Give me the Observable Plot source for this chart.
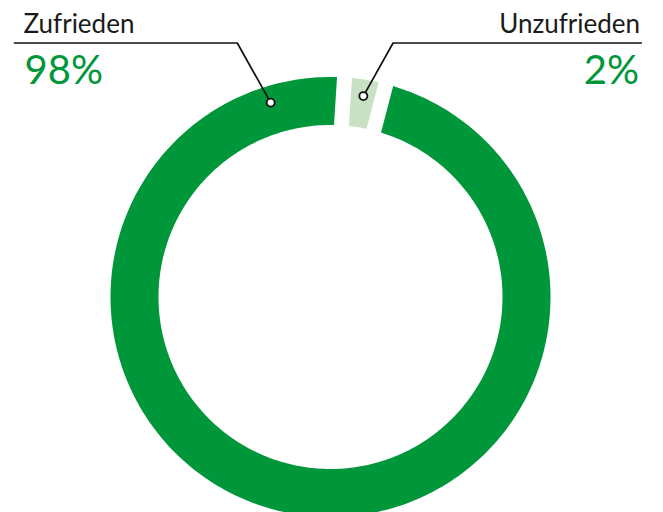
<!DOCTYPE html>
<html><head><meta charset="utf-8">
<script src="https://cdn.jsdelivr.net/npm/d3@7"></script>
<script src="https://cdn.jsdelivr.net/npm/@observablehq/plot@0.6"></script>
<style>html,body{margin:0;padding:0;background:#fff;overflow:hidden}</style>
</head><body><div id="chart"></div>
<script>
// ---- data ----
const categories = ["Zufrieden", "Unzufrieden"];
const values = [98, 2];
const valueLabels = ["98%", "2%"];

// ---- styles / layout ----
const colors = ["#00963a", "#c8e0c3"];
const W = 663, H = 512;
const CX = 330.5, CY = 297;          // ring centre in pixels
const R_OUT = 220, R_IN = 172;
const DEG = Math.PI / 180;
const PAD = 3.9 * DEG;
const START = 14.6 * DEG;
const px = x => x - CX;              // pixel -> data x
const py = y => CY - y;              // pixel -> data y

const pie = d3.pie().value(d => d.value).sort(null)
  .padAngle(PAD).startAngle(START).endAngle(START + 2 * Math.PI);
const arcs = pie(categories.map((c, i) => ({category: c, value: values[i]})));
const h = R_OUT * Math.sin(PAD / 2);

const ring = [];
for (const a of arcs) {
  const o0 = a.startAngle + Math.asin(h / R_OUT), o1 = a.endAngle - Math.asin(h / R_OUT);
  const i0 = a.startAngle + Math.asin(h / R_IN), i1 = a.endAngle - Math.asin(h / R_IN);
  const n = Math.max(8, Math.ceil((a.endAngle - a.startAngle) / DEG));
  for (let k = 0; k <= n; k++) {
    const t = k / n, ti = i0 + (i1 - i0) * t, to = o0 + (o1 - o0) * t;
    ring.push({category: a.data.category,
      xi: R_IN * Math.sin(ti), yi: R_IN * Math.cos(ti),
      xo: R_OUT * Math.sin(to), yo: R_OUT * Math.cos(to)});
  }
}

// leaders: dot on ring, elbow up to the label rule
const DOT_R = 204;
const dotAngle = [-17.2 * DEG, (arcs[1].startAngle + arcs[1].endAngle) / 2];
const side = [-1, 1];
const ruleY = py(42.5);
const ruleEnd = [px(14), px(640.7)];
const dots = categories.map((c, i) => ({category: c, x: DOT_R * Math.sin(dotAngle[i]), y: DOT_R * Math.cos(dotAngle[i])}));
const leaders = [];
dots.forEach((d, i) => {
  const ex = d.x + side[i] * (ruleY - d.y) * 0.56;
  leaders.push({category: d.category, x: d.x, y: d.y});
  leaders.push({category: d.category, x: ex, y: ruleY});
  leaders.push({category: d.category, x: ruleEnd[i], y: ruleY});
});

const labelX = [px(23), px(639.5)];
const anchors = ["start", "end"];
const textMarks = categories.flatMap((c, i) => [
  Plot.text([c], {x: () => labelX[i], y: () => py(32), text: d => d, textAnchor: anchors[i],
    lineAnchor: "bottom", fontSize: 26, fontFamily: "Lato", fill: "#1a1a1a"}),
  Plot.text([valueLabels[i]], {x: () => labelX[i] + (i ? -1 : 1), y: () => py(83.5), text: d => d, textAnchor: anchors[i],
    lineAnchor: "bottom", fontSize: 40, fontFamily: "Lato", fill: colors[0]})
]);

const chart = Plot.plot({
  width: W, height: H,
  margin: 0,
  x: {domain: [px(0), px(W)], axis: null},
  y: {domain: [py(H), py(0)], axis: null},
  color: {domain: categories, range: colors},
  style: {background: "#fff", overflow: "hidden"},
  marks: [
    Plot.area(ring, {x1: "xi", y1: "yi", x2: "xo", y2: "yo", z: "category", fill: "category"}),
    Plot.line(leaders, {x: "x", y: "y", z: "category", stroke: "#111", strokeWidth: 1.7}),
    Plot.dot(dots, {x: "x", y: "y", r: 4, fill: "#fff", stroke: "#111", strokeWidth: 1.8}),
    ...textMarks
  ]
});
document.getElementById("chart").append(chart);
</script>
</body></html>
